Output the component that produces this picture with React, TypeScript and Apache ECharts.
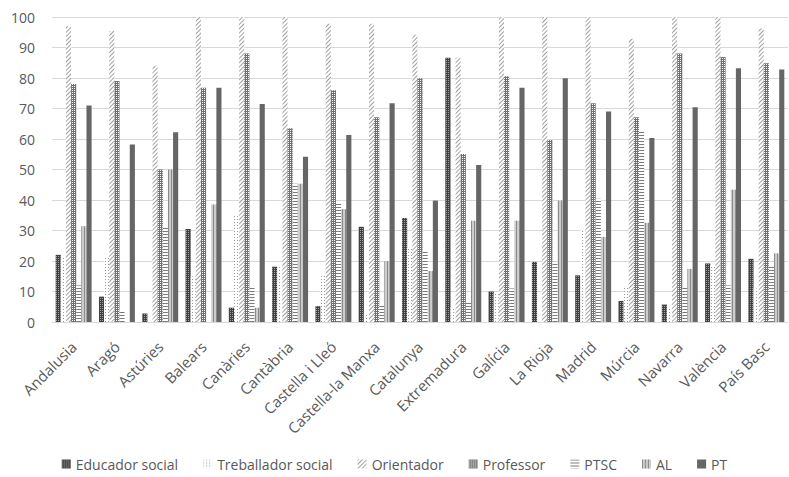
import React, { useEffect, useRef } from "react";
import * as echarts from "echarts";

const categories = [
  "Andalusia", "Aragó", "Astúries", "Balears", "Canàries", "Cantàbria",
  "Castella i Lleó", "Castella-la Manxa", "Catalunya", "Extremadura",
  "Galícia", "La Rioja", "Madrid", "Múrcia", "Navarra", "València", "País Basc",
];

const educadorSocial = [22, 8.3, 2.8, 30.5, 4.7, 18.1, 5.2, 31.2, 34.1, 86.6, 10, 19.7, 15.3, 6.9, 5.7, 19.2, 20.7];
const treballadorSocial = [21, 21, 0, 15, 35, 18, 15.6, 3, 24.3, 4.8, 9.4, 0, 30.3, 11.8, 5, 18.6, 11];
const orientador = [97, 95.4, 84, 100, 100, 100, 97.8, 97.8, 94.2, 86.6, 100, 100, 100, 92.9, 100, 100, 96.2];
const professor = [78, 79, 50, 76.8, 88, 63.5, 76, 67.1, 79.9, 55.1, 80.6, 59.7, 71.7, 67.1, 88, 86.9, 84.8];
const ptsc = [12, 3.8, 31.4, 0, 11.2, 45.3, 38.8, 5.6, 23.2, 6.5, 11, 19.7, 40.4, 62.7, 11.2, 12, 18.6];
const al = [31.4, 0, 50, 38.5, 4.7, 45.3, 37, 20, 16.7, 33.2, 33.2, 39.8, 27.9, 32.5, 17.4, 43.4, 22.5];
const pt = [71, 58.2, 62.2, 76.8, 71.5, 54.2, 61.3, 71.7, 39.8, 51.5, 76.8, 79.9, 69, 60.3, 70.4, 83.2, 82.8];

const yTicks = [0, 10, 20, 30, 40, 50, 60, 70, 80, 90, 100];

const FONT = "Open Sans";
const TEXT = "#595959";

export default function App() {
  const ref = useRef<HTMLDivElement>(null);
  useEffect(() => {
    if (!ref.current) return;
    const chart = echarts.init(ref.current, undefined, { renderer: "svg" });
    const mk = (name: string, data: number[], color: string, decal?: any) => ({
      name,
      type: "bar",
      data,
      barGap: "0%",
      barCategoryGap: "17%",
      itemStyle: decal ? { color, decal } : { color },
    });
    chart.setOption({
      animation: false,
      backgroundColor: "#ffffff",
      textStyle: { fontFamily: FONT },
      grid: { left: 52, right: 1, top: 17, bottom: 155, containLabel: false },
      legend: {
        bottom: 1,
        left: "center",
        icon: "rect",
        itemWidth: 9,
        itemHeight: 9,
        itemGap: 25,
        textStyle: { fontFamily: FONT, fontSize: 14, color: TEXT },
        data: ["Educador social", "Treballador social", "Orientador", "Professor", "PTSC", "AL", "PT"],
      },
      xAxis: {
        type: "category",
        data: categories,
        axisTick: { show: false },
        axisLine: { lineStyle: { color: "#d9d9d9" } },
        axisLabel: {
          rotate: 45,
          interval: 0,
          fontFamily: FONT,
          fontSize: 15,
          color: TEXT,
          margin: 22,
        },
      },
      yAxis: {
        type: "value",
        min: 0,
        max: 100,
        interval: 10,
        axisLine: { show: false },
        axisTick: { show: false },
        splitLine: { lineStyle: { color: "#d9d9d9" } },
        axisLabel: {
          fontFamily: FONT,
          fontSize: 14,
          color: TEXT,
          margin: 17,
          formatter: (v: number) => (yTicks.includes(v) ? String(v) : ""),
        },
      },
      series: [
        mk("Educador social", educadorSocial, "#404040", {
          symbol: "rect", symbolSize: 1, color: "#a0a0a0",
          dashArrayX: [1, 1], dashArrayY: [1, 1],
        }),
        mk("Treballador social", treballadorSocial, "#ffffff", {
          symbol: "rect", symbolSize: 1, color: "#9a9a9a",
          dashArrayX: [1, 2], dashArrayY: [1, 2],
        }),
        mk("Orientador", orientador, "#ffffff", {
          symbol: "rect", symbolSize: 1, color: "#a0a0a0",
          dashArrayX: [1, 0], dashArrayY: [1, 1.2], rotation: -Math.PI / 4,
        }),
        mk("Professor", professor, "#707070", {
          symbol: "rect", symbolSize: 1, color: "#ffffff",
          dashArrayX: [1, 1], dashArrayY: [1, 1],
        }),
        mk("PTSC", ptsc, "#ffffff", {
          symbol: "rect", symbolSize: 1, color: "#7a7a7a",
          dashArrayX: [1, 0], dashArrayY: [1, 2],
        }),
        mk("AL", al, "#cccccc", {
          symbol: "rect", symbolSize: 1, color: "#8a8a8a",
          dashArrayX: [1, 1.5], dashArrayY: [1, 0],
        }),
        mk("PT", pt, "#666666"),
      ],
    });
    return () => chart.dispose();
  }, []);
  return <div ref={ref} style={{ width: 789, height: 477, position: "absolute", left: 0, top: 0 }} />;
}
